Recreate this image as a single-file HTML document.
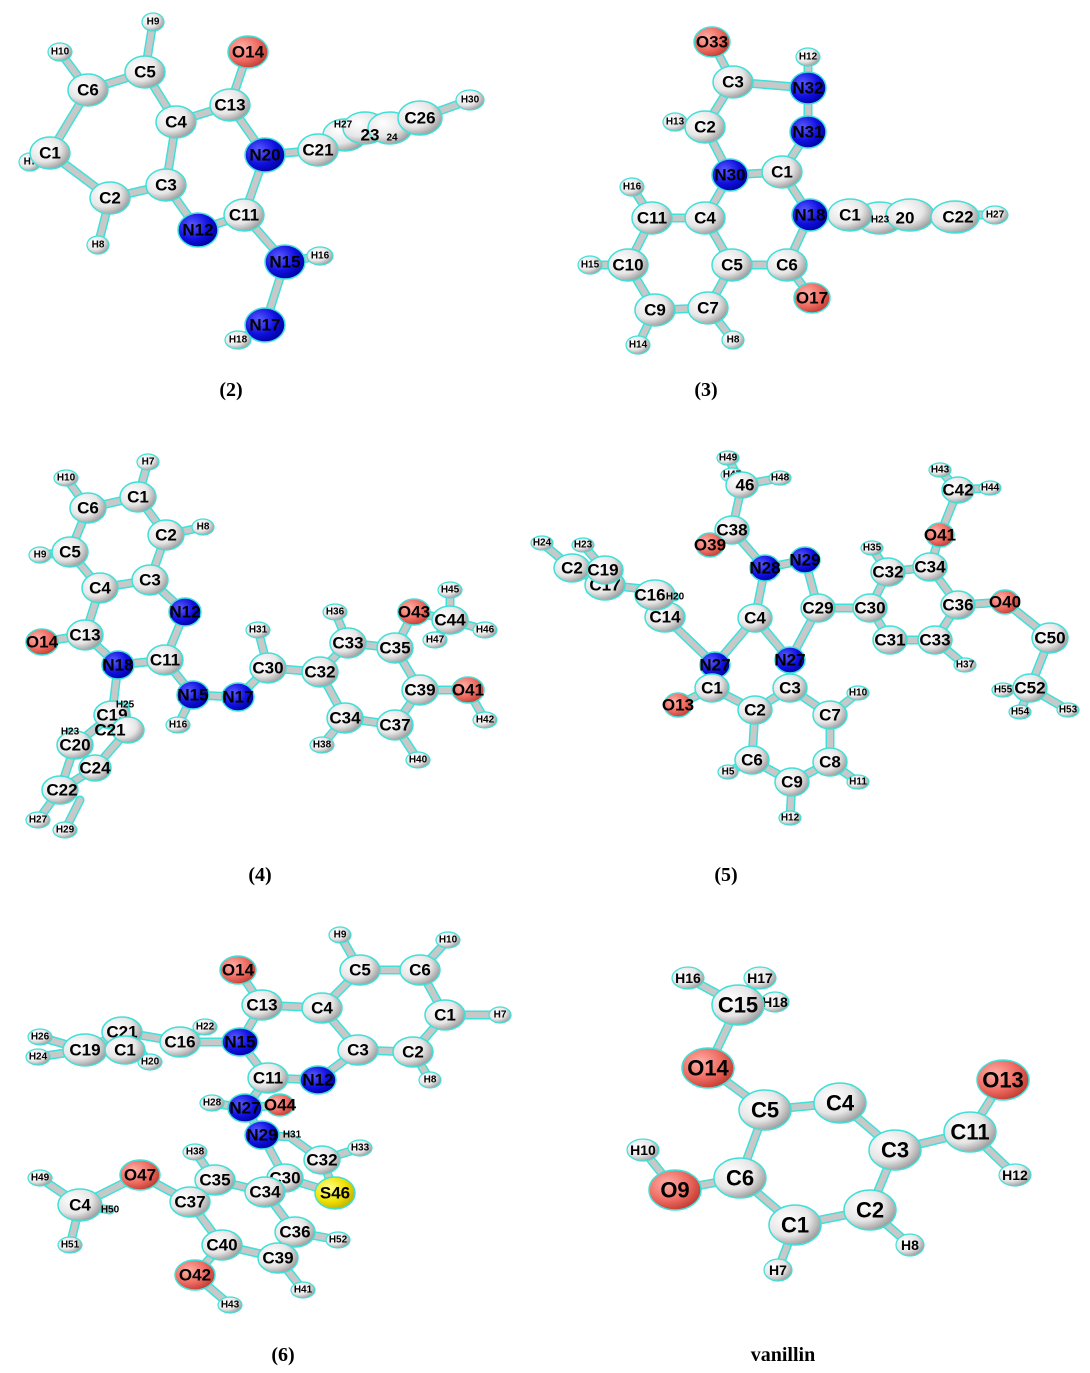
<!DOCTYPE html>
<html><head><meta charset="utf-8"><style>
html,body{margin:0;padding:0;background:#fff;}
svg{display:block;}
.bo{fill:none;stroke:#3fe0d8;stroke-width:9;stroke-linecap:round;}
.bi{fill:none;stroke:#c8c8c8;stroke-width:6;stroke-linecap:round;}
.c{fill:url(#gc);stroke:#3fe0d8;stroke-width:1.5;}
.n{fill:url(#gn);stroke:#3fe0d8;stroke-width:1.5;}
.o{fill:url(#go);stroke:#3fe0d8;stroke-width:1.5;}
.s{fill:url(#gs);stroke:#3fe0d8;stroke-width:1.5;}
.h{fill:url(#gc);stroke:#3fe0d8;stroke-width:1.2;}
text{font-family:"Liberation Sans",sans-serif;font-weight:bold;fill:#000;text-anchor:middle;dominant-baseline:central;}
.t{font-size:17px;}
.th{font-size:10px;}
.tv{font-size:22px;}
.tvh{font-size:14px;}
.cap{font-family:"Liberation Serif",serif;font-size:20px;font-weight:bold;}
</style></head><body>
<svg width="1090" height="1373" viewBox="0 0 1090 1373" xmlns="http://www.w3.org/2000/svg">
<defs>
<radialGradient id="gc" cx="35%" cy="35%" r="70%"><stop offset="0" stop-color="#fff"/><stop offset="0.6" stop-color="#e6e6e6"/><stop offset="1" stop-color="#9a9a9a"/></radialGradient>
<radialGradient id="gn" cx="35%" cy="35%" r="70%"><stop offset="0" stop-color="#5a5aff"/><stop offset="0.6" stop-color="#1010e0"/><stop offset="1" stop-color="#0000a0"/></radialGradient>
<radialGradient id="go" cx="35%" cy="35%" r="70%"><stop offset="0" stop-color="#ffb0a8"/><stop offset="0.6" stop-color="#ee6a60"/><stop offset="1" stop-color="#c03a30"/></radialGradient>
<radialGradient id="gs" cx="35%" cy="35%" r="70%"><stop offset="0" stop-color="#ffff90"/><stop offset="0.6" stop-color="#f0e000"/><stop offset="1" stop-color="#c0b000"/></radialGradient>
<path id="m2" d="M88 90L145 72L176 122L166 185L110 198L50 153L88 90 M176 122L230 105L248 52 M230 105L265 155L244 215L198 230L166 185 M244 215L285 262L265 325L238 340 M285 262L320 256 M265 155L318 150L345 135L365 128L390 128L420 118L470 100 M88 90L60 52 M145 72L153 22 M50 153L30 162 M110 198L98 245"/>
<path id="m3" d="M712 42L733 82L808 88L808 57 M808 88L808 132L782 172L730 175L705 127L733 82 M705 127L675 122 M730 175L705 218L732 265L787 265L810 215L782 172 M705 218L652 218L628 265L655 310L708 308L732 265 M652 218L632 187 M628 265L590 265 M655 310L638 345 M708 308L733 340 M787 265L812 298 M810 215L850 215L880 218L910 215L950 215L995 215"/>
<path id="m4" d="M138 497L88 508L70 552L100 588L150 580L166 535L138 497 M138 497L148 462 M88 508L66 478 M70 552L40 555 M166 535L203 527 M150 580L185 612L165 660L118 665L85 635L100 588 M85 635L42 642 M165 660L193 695L238 697L268 668L320 672L348 643L395 648L420 690L395 725L345 718L320 672 M193 695L178 725 M268 668L258 630 M348 643L335 612 M395 648L414 612L450 620L450 590 M450 620L485 630 M450 620L435 640 M420 690L468 690L485 720 M395 725L418 760 M345 718L322 745 M118 665L112 715L128 730L95 768L60 790L75 745L112 715 M60 790L38 820 M80 800L65 830 M128 730L125 705 M75 745L70 732"/>
<path id="m5" d="M728 458L742 485L780 478 M732 475L742 485L732 530L710 545 M732 530L765 568L805 560L818 608L790 660L755 618L765 568 M755 618L715 665L712 688L755 710L790 688L790 660 M712 688L678 705 M755 710L752 760L792 782L830 762L830 715L790 688 M752 760L728 772 M792 782L790 818 M830 762L858 782 M830 715L858 693 M818 608L870 608L888 572L930 567L958 605L935 640L890 640L870 608 M888 572L872 548 M930 567L940 535L958 490L940 470 M958 490L990 488 M958 605L1005 602L1050 638L1030 688L1068 710 M1030 688L1003 690 M1030 688L1020 712 M935 640L965 665 M715 665L665 617L655 590L605 585L572 568L542 543 M605 570L583 545 M605 585L590 590 M655 590L675 597"/>
<path id="m6" d="M360 970L420 970L445 1015L413 1052L358 1050L322 1008L360 970 M360 970L340 935 M420 970L448 940 M445 1015L500 1015 M413 1052L430 1080 M358 1050L318 1080L268 1078L240 1042L262 1005L322 1008 M262 1005L238 970 M240 1042L180 1042L122 1032L85 1050L38 1057 M85 1050L40 1037 M180 1042L205 1027 M122 1032L150 1062 M268 1078L245 1108L212 1103 M245 1108L262 1135L290 1137L322 1160L360 1148 M245 1108L280 1105 M262 1135L285 1178L265 1192L215 1180L190 1202L222 1245L278 1258L295 1232L265 1192 M285 1178L335 1193L322 1160 M215 1180L195 1152 M190 1202L140 1175L80 1205L40 1178 M80 1205L70 1245 M80 1205L110 1210 M295 1232L338 1240 M278 1258L303 1290 M222 1245L195 1275L230 1305"/>
<path id="mv" d="M688 978L738 1005L760 978 M738 1005L775 1002 M738 1005L708 1068L765 1110L840 1103L895 1150L870 1210L795 1225L740 1178L765 1110 M895 1150L970 1132L1003 1080 M970 1132L1015 1175 M870 1210L910 1245 M795 1225L778 1270 M740 1178L675 1190L643 1150"/>
</defs>
<g><use href="#m2" class="bo"/><use href="#m2" class="bi"/><use href="#m3" class="bo"/><use href="#m3" class="bi"/><use href="#m4" class="bo"/><use href="#m4" class="bi"/><use href="#m5" class="bo"/><use href="#m5" class="bi"/><use href="#m6" class="bo"/><use href="#m6" class="bi"/><use href="#mv" class="bo"/><use href="#mv" class="bi"/></g>

<!-- Molecule 2 -->
<g>
<ellipse class="h" cx="60" cy="52" rx="12" ry="9"/><text class="th" x="60" y="52">H10</text>
<ellipse class="h" cx="153" cy="22" rx="11" ry="9"/><text class="th" x="153" y="22">H9</text>
<ellipse class="h" cx="30" cy="162" rx="11" ry="9"/><text class="th" x="30" y="162">H7</text>
<ellipse class="h" cx="98" cy="245" rx="11" ry="9"/><text class="th" x="98" y="245">H8</text>
<ellipse class="h" cx="320" cy="256" rx="13" ry="9"/><text class="th" x="320" y="256">H16</text>
<ellipse class="h" cx="238" cy="340" rx="13" ry="9"/><text class="th" x="238" y="340">H18</text>
<ellipse class="c" cx="88" cy="90" rx="20" ry="16"/><text class="t" x="88" y="90">C6</text>
<ellipse class="c" cx="145" cy="72" rx="20" ry="16"/><text class="t" x="145" y="72">C5</text>
<ellipse class="c" cx="176" cy="122" rx="20" ry="16"/><text class="t" x="176" y="122">C4</text>
<ellipse class="c" cx="166" cy="185" rx="20" ry="16"/><text class="t" x="166" y="185">C3</text>
<ellipse class="c" cx="110" cy="198" rx="20" ry="16"/><text class="t" x="110" y="198">C2</text>
<ellipse class="c" cx="50" cy="153" rx="20" ry="16"/><text class="t" x="50" y="153">C1</text>
<ellipse class="c" cx="230" cy="105" rx="20" ry="16"/><text class="t" x="230" y="105">C13</text>
<ellipse class="o" cx="248" cy="52" rx="20" ry="16"/><text class="t" x="248" y="52">O14</text>
<ellipse class="n" cx="265" cy="155" rx="20" ry="17"/><text class="t" x="265" y="155">N20</text>
<ellipse class="c" cx="244" cy="215" rx="20" ry="16"/><text class="t" x="244" y="215">C11</text>
<ellipse class="n" cx="198" cy="230" rx="20" ry="17"/><text class="t" x="198" y="230">N12</text>
<ellipse class="n" cx="285" cy="262" rx="20" ry="17"/><text class="t" x="285" y="262">N15</text>
<ellipse class="n" cx="265" cy="325" rx="20" ry="17"/><text class="t" x="265" y="325">N17</text>
<ellipse class="c" cx="345" cy="135" rx="22" ry="16"/>
<ellipse class="c" cx="365" cy="128" rx="22" ry="16"/>
<ellipse class="c" cx="390" cy="128" rx="22" ry="16"/>
<ellipse class="c" cx="318" cy="150" rx="20" ry="16"/><text class="t" x="318" y="150">C21</text>
<text class="th" x="343" y="125">H27</text><text class="t" x="370" y="135">23</text><text class="th" x="392" y="138">24</text>
<ellipse class="c" cx="420" cy="118" rx="22" ry="17"/><text class="t" x="420" y="118">C26</text>
<ellipse class="h" cx="470" cy="100" rx="14" ry="10"/><text class="th" x="470" y="100">H30</text>
</g>

<!-- Molecule 3 -->
<g>
<ellipse class="h" cx="808" cy="57" rx="12" ry="9"/><text class="th" x="808" y="57">H12</text>
<ellipse class="h" cx="675" cy="122" rx="12" ry="9"/><text class="th" x="675" y="122">H13</text>
<ellipse class="h" cx="632" cy="187" rx="12" ry="9"/><text class="th" x="632" y="187">H16</text>
<ellipse class="h" cx="590" cy="265" rx="12" ry="9"/><text class="th" x="590" y="265">H15</text>
<ellipse class="h" cx="638" cy="345" rx="12" ry="9"/><text class="th" x="638" y="345">H14</text>
<ellipse class="h" cx="733" cy="340" rx="11" ry="9"/><text class="th" x="733" y="340">H8</text>
<ellipse class="o" cx="712" cy="42" rx="18" ry="15"/><text class="t" x="712" y="42">O33</text>
<ellipse class="c" cx="733" cy="82" rx="20" ry="16"/><text class="t" x="733" y="82">C3</text>
<ellipse class="n" cx="808" cy="88" rx="18" ry="16"/><text class="t" x="808" y="88">N32</text>
<ellipse class="n" cx="808" cy="132" rx="18" ry="16"/><text class="t" x="808" y="132">N31</text>
<ellipse class="c" cx="705" cy="127" rx="20" ry="16"/><text class="t" x="705" y="127">C2</text>
<ellipse class="c" cx="782" cy="172" rx="20" ry="16"/><text class="t" x="782" y="172">C1</text>
<ellipse class="n" cx="730" cy="175" rx="18" ry="16"/><text class="t" x="730" y="175">N30</text>
<ellipse class="c" cx="705" cy="218" rx="20" ry="16"/><text class="t" x="705" y="218">C4</text>
<ellipse class="c" cx="652" cy="218" rx="20" ry="16"/><text class="t" x="652" y="218">C11</text>
<ellipse class="c" cx="628" cy="265" rx="20" ry="16"/><text class="t" x="628" y="265">C10</text>
<ellipse class="c" cx="655" cy="310" rx="20" ry="16"/><text class="t" x="655" y="310">C9</text>
<ellipse class="c" cx="708" cy="308" rx="20" ry="16"/><text class="t" x="708" y="308">C7</text>
<ellipse class="c" cx="732" cy="265" rx="20" ry="16"/><text class="t" x="732" y="265">C5</text>
<ellipse class="c" cx="787" cy="265" rx="20" ry="16"/><text class="t" x="787" y="265">C6</text>
<ellipse class="o" cx="812" cy="298" rx="18" ry="15"/><text class="t" x="812" y="298">O17</text>
<ellipse class="c" cx="880" cy="218" rx="24" ry="16"/>
<ellipse class="c" cx="910" cy="215" rx="24" ry="16"/>
<ellipse class="c" cx="850" cy="215" rx="22" ry="16"/><text class="t" x="850" y="215">C1</text>
<text class="th" x="880" y="220">H23</text><text class="t" x="905" y="218">20</text>
<ellipse class="c" cx="955" cy="217" rx="24" ry="16"/><text class="t" x="958" y="217">C22</text>
<ellipse class="n" cx="810" cy="215" rx="18" ry="16"/><text class="t" x="810" y="215">N18</text>
<ellipse class="h" cx="995" cy="215" rx="13" ry="9"/><text class="th" x="995" y="215">H27</text>
</g>

<!-- Molecule 4 -->
<g>
<ellipse class="h" cx="148" cy="462" rx="11" ry="8"/><text class="th" x="148" y="462">H7</text>
<ellipse class="h" cx="66" cy="478" rx="12" ry="8"/><text class="th" x="66" y="478">H10</text>
<ellipse class="h" cx="40" cy="555" rx="11" ry="8"/><text class="th" x="40" y="555">H9</text>
<ellipse class="h" cx="203" cy="527" rx="11" ry="8"/><text class="th" x="203" y="527">H8</text>
<ellipse class="h" cx="178" cy="725" rx="12" ry="8"/><text class="th" x="178" y="725">H16</text>
<ellipse class="h" cx="258" cy="630" rx="12" ry="8"/><text class="th" x="258" y="630">H31</text>
<ellipse class="h" cx="335" cy="612" rx="12" ry="8"/><text class="th" x="335" y="612">H36</text>
<ellipse class="h" cx="450" cy="590" rx="12" ry="8"/><text class="th" x="450" y="590">H45</text>
<ellipse class="h" cx="485" cy="630" rx="12" ry="8"/><text class="th" x="485" y="630">H46</text>
<ellipse class="h" cx="435" cy="640" rx="12" ry="8"/><text class="th" x="435" y="640">H47</text>
<ellipse class="h" cx="485" cy="720" rx="12" ry="8"/><text class="th" x="485" y="720">H42</text>
<ellipse class="h" cx="418" cy="760" rx="12" ry="8"/><text class="th" x="418" y="760">H40</text>
<ellipse class="h" cx="322" cy="745" rx="12" ry="8"/><text class="th" x="322" y="745">H38</text>
<ellipse class="h" cx="38" cy="820" rx="12" ry="8"/><text class="th" x="38" y="820">H27</text>
<ellipse class="h" cx="65" cy="830" rx="12" ry="8"/><text class="th" x="65" y="830">H29</text>
<ellipse class="c" cx="138" cy="497" rx="18" ry="15"/><text class="t" x="138" y="497">C1</text>
<ellipse class="c" cx="88" cy="508" rx="18" ry="15"/><text class="t" x="88" y="508">C6</text>
<ellipse class="c" cx="70" cy="552" rx="18" ry="15"/><text class="t" x="70" y="552">C5</text>
<ellipse class="c" cx="100" cy="588" rx="18" ry="15"/><text class="t" x="100" y="588">C4</text>
<ellipse class="c" cx="150" cy="580" rx="18" ry="15"/><text class="t" x="150" y="580">C3</text>
<ellipse class="c" cx="166" cy="535" rx="18" ry="15"/><text class="t" x="166" y="535">C2</text>
<ellipse class="n" cx="185" cy="612" rx="16" ry="14"/><text class="t" x="185" y="612">N12</text>
<ellipse class="c" cx="85" cy="635" rx="18" ry="15"/><text class="t" x="85" y="635">C13</text>
<ellipse class="o" cx="42" cy="642" rx="16" ry="13"/><text class="t" x="42" y="642">O14</text>
<ellipse class="n" cx="118" cy="665" rx="16" ry="14"/><text class="t" x="118" y="665">N18</text>
<ellipse class="c" cx="165" cy="660" rx="18" ry="15"/><text class="t" x="165" y="660">C11</text>
<ellipse class="n" cx="193" cy="695" rx="16" ry="14"/><text class="t" x="193" y="695">N15</text>
<ellipse class="n" cx="238" cy="697" rx="16" ry="14"/><text class="t" x="238" y="697">N17</text>
<ellipse class="c" cx="268" cy="668" rx="18" ry="15"/><text class="t" x="268" y="668">C30</text>
<ellipse class="c" cx="320" cy="672" rx="18" ry="15"/><text class="t" x="320" y="672">C32</text>
<ellipse class="c" cx="348" cy="643" rx="18" ry="15"/><text class="t" x="348" y="643">C33</text>
<ellipse class="c" cx="395" cy="648" rx="18" ry="15"/><text class="t" x="395" y="648">C35</text>
<ellipse class="o" cx="414" cy="612" rx="16" ry="13"/><text class="t" x="414" y="612">O43</text>
<ellipse class="c" cx="450" cy="620" rx="18" ry="14"/><text class="t" x="450" y="620">C44</text>
<ellipse class="c" cx="420" cy="690" rx="18" ry="15"/><text class="t" x="420" y="690">C39</text>
<ellipse class="o" cx="468" cy="690" rx="16" ry="13"/><text class="t" x="468" y="690">O41</text>
<ellipse class="c" cx="395" cy="725" rx="18" ry="15"/><text class="t" x="395" y="725">C37</text>
<ellipse class="c" cx="345" cy="718" rx="18" ry="15"/><text class="t" x="345" y="718">C34</text>
<ellipse class="c" cx="112" cy="715" rx="18" ry="14"/><text class="t" x="112" y="715">C19</text>
<ellipse class="c" cx="75" cy="745" rx="18" ry="14"/><text class="t" x="75" y="745">C20</text>
<ellipse class="c" cx="128" cy="730" rx="16" ry="13"/><text class="t" x="110" y="730">C21</text>
<ellipse class="c" cx="95" cy="768" rx="16" ry="13"/><text class="t" x="95" y="768">C24</text>
<ellipse class="c" cx="60" cy="790" rx="18" ry="14"/><text class="t" x="62" y="790">C22</text>
<text class="th" x="70" y="732">H23</text><text class="th" x="125" y="705">H25</text>
</g>

<!-- Molecule 5 -->
<g>
<ellipse class="h" cx="728" cy="458" rx="11" ry="7"/><text class="th" x="728" y="458">H49</text>
<ellipse class="h" cx="732" cy="475" rx="11" ry="7"/><text class="th" x="732" y="475">H47</text>
<ellipse class="h" cx="780" cy="478" rx="11" ry="7"/><text class="th" x="780" y="478">H48</text>
<ellipse class="h" cx="872" cy="548" rx="11" ry="7"/><text class="th" x="872" y="548">H35</text>
<ellipse class="h" cx="940" cy="470" rx="11" ry="7"/><text class="th" x="940" y="470">H43</text>
<ellipse class="h" cx="990" cy="488" rx="11" ry="7"/><text class="th" x="990" y="488">H44</text>
<ellipse class="h" cx="965" cy="665" rx="11" ry="7"/><text class="th" x="965" y="665">H37</text>
<ellipse class="h" cx="1003" cy="690" rx="11" ry="7"/><text class="th" x="1003" y="690">H55</text>
<ellipse class="h" cx="1020" cy="712" rx="11" ry="7"/><text class="th" x="1020" y="712">H54</text>
<ellipse class="h" cx="1068" cy="710" rx="11" ry="7"/><text class="th" x="1068" y="710">H53</text>
<ellipse class="h" cx="858" cy="693" rx="11" ry="7"/><text class="th" x="858" y="693">H10</text>
<ellipse class="h" cx="858" cy="782" rx="11" ry="7"/><text class="th" x="858" y="782">H11</text>
<ellipse class="h" cx="790" cy="818" rx="11" ry="7"/><text class="th" x="790" y="818">H12</text>
<ellipse class="h" cx="728" cy="772" rx="10" ry="7"/><text class="th" x="728" y="772">H5</text>
<ellipse class="h" cx="542" cy="543" rx="11" ry="7"/><text class="th" x="542" y="543">H24</text>
<ellipse class="h" cx="583" cy="545" rx="11" ry="7"/><text class="th" x="583" y="545">H23</text>
<ellipse class="c" cx="742" cy="485" rx="16" ry="13"/><text class="t" x="745" y="485">46</text>
<ellipse class="c" cx="732" cy="530" rx="17" ry="14"/><text class="t" x="732" y="530">C38</text>
<ellipse class="o" cx="710" cy="545" rx="14" ry="12"/><text class="t" x="710" y="545">O39</text>
<ellipse class="n" cx="765" cy="568" rx="15" ry="13"/><text class="t" x="765" y="568">N28</text>
<ellipse class="n" cx="805" cy="560" rx="15" ry="13"/><text class="t" x="805" y="560">N29</text>
<ellipse class="c" cx="755" cy="618" rx="17" ry="14"/><text class="t" x="755" y="618">C4</text>
<ellipse class="n" cx="715" cy="665" rx="15" ry="13"/><text class="t" x="715" y="665">N27</text>
<ellipse class="c" cx="818" cy="608" rx="17" ry="14"/><text class="t" x="818" y="608">C29</text>
<ellipse class="n" cx="790" cy="660" rx="15" ry="13"/><text class="t" x="790" y="660">N27</text>
<ellipse class="c" cx="790" cy="688" rx="17" ry="14"/><text class="t" x="790" y="688">C3</text>
<ellipse class="c" cx="712" cy="688" rx="17" ry="14"/><text class="t" x="712" y="688">C1</text>
<ellipse class="o" cx="678" cy="705" rx="14" ry="12"/><text class="t" x="678" y="705">O13</text>
<ellipse class="c" cx="755" cy="710" rx="17" ry="14"/><text class="t" x="755" y="710">C2</text>
<ellipse class="c" cx="752" cy="760" rx="17" ry="14"/><text class="t" x="752" y="760">C6</text>
<ellipse class="c" cx="792" cy="782" rx="17" ry="14"/><text class="t" x="792" y="782">C9</text>
<ellipse class="c" cx="830" cy="762" rx="17" ry="14"/><text class="t" x="830" y="762">C8</text>
<ellipse class="c" cx="830" cy="715" rx="17" ry="14"/><text class="t" x="830" y="715">C7</text>
<ellipse class="c" cx="870" cy="608" rx="17" ry="14"/><text class="t" x="870" y="608">C30</text>
<ellipse class="c" cx="888" cy="572" rx="17" ry="14"/><text class="t" x="888" y="572">C32</text>
<ellipse class="c" cx="930" cy="567" rx="17" ry="14"/><text class="t" x="930" y="567">C34</text>
<ellipse class="o" cx="940" cy="535" rx="14" ry="12"/><text class="t" x="940" y="535">O41</text>
<ellipse class="c" cx="958" cy="490" rx="16" ry="13"/><text class="t" x="958" y="490">C42</text>
<ellipse class="c" cx="958" cy="605" rx="17" ry="14"/><text class="t" x="958" y="605">C36</text>
<ellipse class="o" cx="1005" cy="602" rx="14" ry="12"/><text class="t" x="1005" y="602">O40</text>
<ellipse class="c" cx="1050" cy="638" rx="18" ry="15"/><text class="t" x="1050" y="638">C50</text>
<ellipse class="c" cx="1030" cy="688" rx="17" ry="14"/><text class="t" x="1030" y="688">C52</text>
<ellipse class="c" cx="935" cy="640" rx="17" ry="14"/><text class="t" x="935" y="640">C33</text>
<ellipse class="c" cx="890" cy="640" rx="17" ry="14"/><text class="t" x="890" y="640">C31</text>
<ellipse class="c" cx="572" cy="568" rx="18" ry="14"/><text class="t" x="572" y="568">C2</text>
<ellipse class="c" cx="605" cy="585" rx="20" ry="15"/><text class="t" x="605" y="585">C17</text>
<ellipse class="c" cx="605" cy="570" rx="18" ry="14"/><text class="t" x="603" y="570">C19</text>
<ellipse class="c" cx="665" cy="617" rx="20" ry="15"/><text class="t" x="665" y="617">C14</text>
<ellipse class="c" cx="655" cy="595" rx="20" ry="15"/><text class="t" x="650" y="595">C16</text>
<text class="th" x="675" y="597">H20</text>
</g>

<!-- Molecule 6 -->
<g>
<ellipse class="h" cx="340" cy="935" rx="11" ry="8"/><text class="th" x="340" y="935">H9</text>
<ellipse class="h" cx="448" cy="940" rx="12" ry="8"/><text class="th" x="448" y="940">H10</text>
<ellipse class="h" cx="500" cy="1015" rx="11" ry="8"/><text class="th" x="500" y="1015">H7</text>
<ellipse class="h" cx="430" cy="1080" rx="11" ry="8"/><text class="th" x="430" y="1080">H8</text>
<ellipse class="h" cx="205" cy="1027" rx="12" ry="8"/><text class="th" x="205" y="1027">H22</text>
<ellipse class="h" cx="150" cy="1062" rx="12" ry="8"/><text class="th" x="150" y="1062">H20</text>
<ellipse class="h" cx="38" cy="1057" rx="12" ry="8"/><text class="th" x="38" y="1057">H24</text>
<ellipse class="h" cx="40" cy="1037" rx="12" ry="8"/><text class="th" x="40" y="1037">H26</text>
<ellipse class="h" cx="212" cy="1103" rx="12" ry="8"/><text class="th" x="212" y="1103">H28</text>
<ellipse class="h" cx="360" cy="1148" rx="12" ry="8"/><text class="th" x="360" y="1148">H33</text>
<ellipse class="h" cx="195" cy="1152" rx="12" ry="8"/><text class="th" x="195" y="1152">H38</text>
<ellipse class="h" cx="40" cy="1178" rx="12" ry="8"/><text class="th" x="40" y="1178">H49</text>
<ellipse class="h" cx="70" cy="1245" rx="12" ry="8"/><text class="th" x="70" y="1245">H51</text>
<ellipse class="h" cx="338" cy="1240" rx="12" ry="8"/><text class="th" x="338" y="1240">H52</text>
<ellipse class="h" cx="303" cy="1290" rx="12" ry="8"/><text class="th" x="303" y="1290">H41</text>
<ellipse class="h" cx="230" cy="1305" rx="12" ry="8"/><text class="th" x="230" y="1305">H43</text>
<ellipse class="c" cx="360" cy="970" rx="20" ry="15"/><text class="t" x="360" y="970">C5</text>
<ellipse class="c" cx="420" cy="970" rx="20" ry="15"/><text class="t" x="420" y="970">C6</text>
<ellipse class="c" cx="445" cy="1015" rx="20" ry="15"/><text class="t" x="445" y="1015">C1</text>
<ellipse class="c" cx="413" cy="1052" rx="20" ry="15"/><text class="t" x="413" y="1052">C2</text>
<ellipse class="c" cx="358" cy="1050" rx="20" ry="15"/><text class="t" x="358" y="1050">C3</text>
<ellipse class="c" cx="322" cy="1008" rx="20" ry="15"/><text class="t" x="322" y="1008">C4</text>
<ellipse class="n" cx="318" cy="1080" rx="18" ry="14"/><text class="t" x="318" y="1080">N12</text>
<ellipse class="c" cx="262" cy="1005" rx="20" ry="15"/><text class="t" x="262" y="1005">C13</text>
<ellipse class="o" cx="238" cy="970" rx="18" ry="14"/><text class="t" x="238" y="970">O14</text>
<ellipse class="n" cx="240" cy="1042" rx="18" ry="14"/><text class="t" x="240" y="1042">N15</text>
<ellipse class="c" cx="268" cy="1078" rx="20" ry="15"/><text class="t" x="268" y="1078">C11</text>
<ellipse class="c" cx="122" cy="1032" rx="20" ry="15"/><text class="t" x="122" y="1032">C21</text>
<ellipse class="c" cx="85" cy="1050" rx="22" ry="16"/><text class="t" x="85" y="1050">C19</text>
<ellipse class="c" cx="125" cy="1050" rx="20" ry="14"/><text class="t" x="125" y="1050">C1</text>
<ellipse class="c" cx="180" cy="1042" rx="20" ry="15"/><text class="t" x="180" y="1042">C16</text>
<ellipse class="n" cx="245" cy="1108" rx="17" ry="14"/><text class="t" x="245" y="1108">N27</text>
<ellipse class="o" cx="280" cy="1105" rx="14" ry="11"/><text class="t" x="280" y="1105">O44</text>
<ellipse class="n" cx="262" cy="1135" rx="17" ry="14"/><text class="t" x="262" y="1135">N29</text>
<text class="th" x="292" y="1135">H31</text>
<ellipse class="c" cx="322" cy="1160" rx="18" ry="14"/><text class="t" x="322" y="1160">C32</text>
<ellipse class="s" cx="335" cy="1193" rx="20" ry="16"/><text class="t" x="335" y="1193">S46</text>
<ellipse class="c" cx="285" cy="1178" rx="18" ry="14"/><text class="t" x="285" y="1178">C30</text>
<ellipse class="c" cx="265" cy="1192" rx="20" ry="15"/><text class="t" x="265" y="1192">C34</text>
<ellipse class="c" cx="215" cy="1180" rx="20" ry="15"/><text class="t" x="215" y="1180">C35</text>
<ellipse class="c" cx="190" cy="1202" rx="20" ry="15"/><text class="t" x="190" y="1202">C37</text>
<ellipse class="o" cx="140" cy="1175" rx="20" ry="15"/><text class="t" x="140" y="1175">O47</text>
<ellipse class="c" cx="80" cy="1205" rx="22" ry="16"/><text class="t" x="80" y="1205">C4</text>
<text class="th" x="110" y="1210">H50</text>
<ellipse class="c" cx="295" cy="1232" rx="20" ry="15"/><text class="t" x="295" y="1232">C36</text>
<ellipse class="c" cx="278" cy="1258" rx="20" ry="15"/><text class="t" x="278" y="1258">C39</text>
<ellipse class="c" cx="222" cy="1245" rx="20" ry="15"/><text class="t" x="222" y="1245">C40</text>
<ellipse class="o" cx="195" cy="1275" rx="20" ry="15"/><text class="t" x="195" y="1275">O42</text>
</g>

<!-- Vanillin -->
<g>
<ellipse class="h" cx="688" cy="978" rx="16" ry="11"/><text class="tvh" x="688" y="978">H16</text>
<ellipse class="h" cx="760" cy="978" rx="16" ry="11"/><text class="tvh" x="760" y="978">H17</text>
<ellipse class="h" cx="775" cy="1002" rx="14" ry="10"/><text class="tvh" x="775" y="1002">H18</text>
<ellipse class="h" cx="1015" cy="1175" rx="16" ry="11"/><text class="tvh" x="1015" y="1175">H12</text>
<ellipse class="h" cx="910" cy="1245" rx="14" ry="11"/><text class="tvh" x="910" y="1245">H8</text>
<ellipse class="h" cx="778" cy="1270" rx="14" ry="11"/><text class="tvh" x="778" y="1270">H7</text>
<ellipse class="h" cx="643" cy="1150" rx="16" ry="11"/><text class="tvh" x="643" y="1150">H10</text>
<ellipse class="c" cx="738" cy="1005" rx="26" ry="20"/><text class="tv" x="738" y="1005">C15</text>
<ellipse class="o" cx="708" cy="1068" rx="26" ry="20"/><text class="tv" x="708" y="1068">O14</text>
<ellipse class="c" cx="765" cy="1110" rx="26" ry="20"/><text class="tv" x="765" y="1110">C5</text>
<ellipse class="c" cx="840" cy="1103" rx="26" ry="20"/><text class="tv" x="840" y="1103">C4</text>
<ellipse class="c" cx="895" cy="1150" rx="26" ry="20"/><text class="tv" x="895" y="1150">C3</text>
<ellipse class="c" cx="970" cy="1132" rx="26" ry="20"/><text class="tv" x="970" y="1132">C11</text>
<ellipse class="o" cx="1003" cy="1080" rx="26" ry="20"/><text class="tv" x="1003" y="1080">O13</text>
<ellipse class="c" cx="870" cy="1210" rx="26" ry="20"/><text class="tv" x="870" y="1210">C2</text>
<ellipse class="c" cx="795" cy="1225" rx="26" ry="20"/><text class="tv" x="795" y="1225">C1</text>
<ellipse class="c" cx="740" cy="1178" rx="26" ry="20"/><text class="tv" x="740" y="1178">C6</text>
<ellipse class="o" cx="675" cy="1190" rx="26" ry="20"/><text class="tv" x="675" y="1190">O9</text>
</g>

<text class="cap" x="231" y="390">(2)</text>
<text class="cap" x="706" y="390">(3)</text>
<text class="cap" x="260" y="875">(4)</text>
<text class="cap" x="726" y="875">(5)</text>
<text class="cap" x="283" y="1355">(6)</text>
<text class="cap" x="783" y="1355">vanillin</text>
</svg>
</body></html>
